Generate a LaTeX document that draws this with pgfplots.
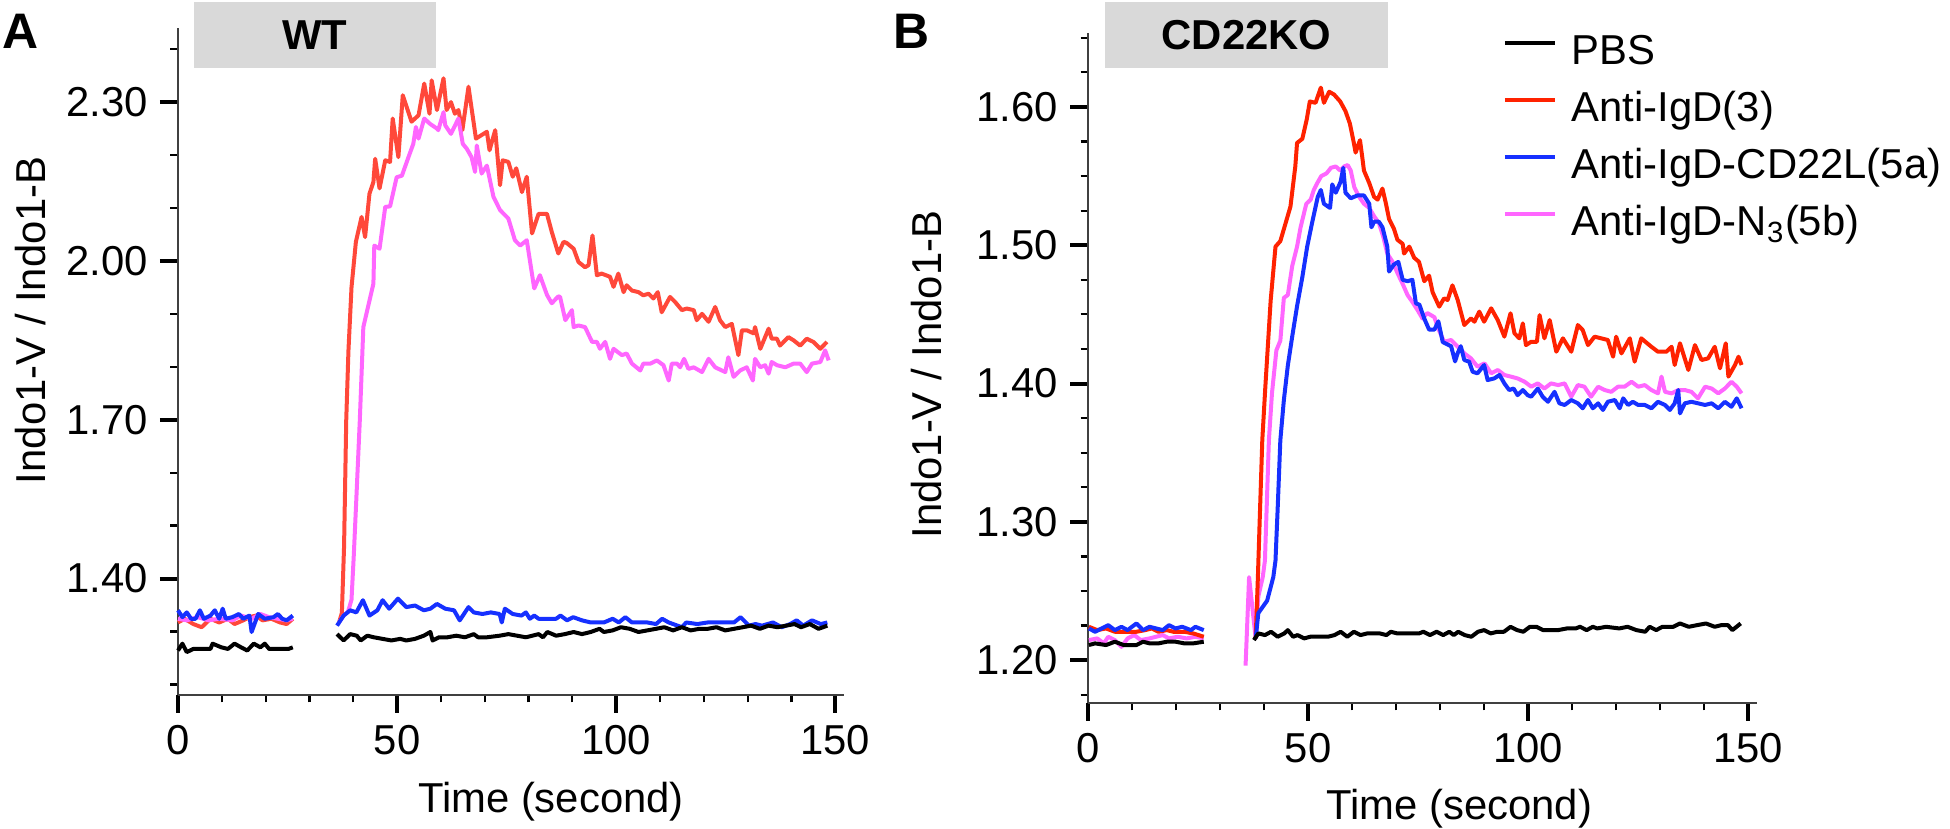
\documentclass[border=0pt]{standalone}
\usepackage{pgfplots}
\pgfplotsset{compat=1.18}
\usepackage{fontspec}
\setmainfont{Liberation Sans}
\definecolor{redA}{RGB}{255,72,58}
\definecolor{redB}{RGB}{255,34,0}
\definecolor{magA}{RGB}{255,102,255}
\definecolor{bluA}{RGB}{22,48,255}
\definecolor{boxgray}{RGB}{217,217,217}
\newcommand{\fs}{\fontsize{11.9}{14}\selectfont}
\pgfplotsset{
  myaxis/.style={
    scale only axis,
    font=\fs,
    axis x line*=bottom, axis y line*=left,
    axis line style={line width=0.2mm, black!75},
    tick align=outside,
    major tick length=1.8mm, minor tick length=0.75mm,
    major tick style={line width=0.4mm, black},
    minor tick style={line width=0.22mm, black},
    xmin=0, xmax=152,
    xtick={0,50,100,150},
    minor xtick={10,20,30,40,60,70,80,90,110,120,130,140},
    xticklabel style={/pgf/number format/assume math mode=true, font=\fs},
    yticklabel style={/pgf/number format/.cd, fixed, fixed zerofill, precision=2, assume math mode=true},
    xlabel={Time (second)},
    ylabel={Indo1-V / Indo1-B},
    every axis plot/.append style={line width=0.4mm, line join=round},
    clip=false,
  }
}
\begin{document}
\begin{tikzpicture}
% ---------------- Panel A ----------------
\begin{axis}[myaxis,
  at={(17.8mm,13.4mm)}, anchor=south west,
  width=66.6mm, height=66.7mm,
  ymin=1.18, ymax=2.44,
  ytick={1.4,1.7,2.0,2.3},
  minor ytick={1.2,1.3,1.5,1.6,1.8,1.9,2.1,2.2,2.4},
  ylabel style={at={(axis description cs:-0.222,0.562)}, anchor=center},
  xlabel style={at={(axis description cs:0.56,-0.13)}, anchor=north, inner sep=0pt},
]
% red pre
\addplot[redA, forget plot] coordinates {(0,1.317)(1.5,1.324)(3.5,1.314)(5.4,1.308)(7.4,1.324)(9.4,1.317)(11.4,1.324)(12.9,1.314)(14.9,1.321)(16.3,1.327)(17.8,1.330)(19.3,1.321)(21.3,1.324)(23.3,1.317)(24.8,1.314)(26.2,1.324)};
% magenta pre
\addplot[magA, forget plot] coordinates {(0,1.324)(2,1.321)(4.5,1.327)(7,1.321)(9.4,1.324)(12.4,1.321)(14.4,1.330)(16.8,1.324)(18.8,1.333)(20.8,1.327)(22.8,1.324)(24.8,1.321)(26.2,1.324)};
% blue pre
\addplot[bluA, forget plot] coordinates {(0,1.340)(1.0,1.327)(2.0,1.336)(3.0,1.324)(4.0,1.324)(5.0,1.340)(5.9,1.324)(7.4,1.330)(8.4,1.340)(9.4,1.324)(10.2,1.343)(10.9,1.324)(12.4,1.327)(13.9,1.333)(14.9,1.324)(16.3,1.330)(16.8,1.299)(18.3,1.333)(19.8,1.324)(21.8,1.327)(22.8,1.333)(23.8,1.324)(24.8,1.321)(26.2,1.330)};
% black pre
\addplot[black, forget plot] coordinates {(0,1.264)(1.0,1.277)(2.0,1.261)(3.5,1.267)(7.4,1.267)(7.9,1.277)(9.9,1.270)(11.4,1.267)(12.9,1.277)(14.4,1.270)(15.8,1.264)(17.3,1.277)(18.8,1.270)(19.8,1.277)(20.8,1.267)(23.3,1.267)(25.2,1.267)(26.2,1.270)};
% red post
\addplot[redA, forget plot] coordinates {(36.8,1.318)(37.4,1.335)(37.9,1.46)(38.4,1.70)(38.9,1.83)(39.6,1.95)(40.6,2.036)(41.9,2.083)(42.7,2.045)(43.7,2.127)(44.6,2.149)(45.0,2.193)(46.0,2.137)(47.3,2.190)(48.4,2.187)(49.0,2.269)(50.3,2.196)(51.3,2.313)(53.3,2.263)(54.9,2.275)(56.2,2.335)(57.4,2.278)(57.9,2.341)(59.1,2.285)(60.6,2.345)(61.3,2.285)(62.3,2.300)(63.2,2.278)(64.0,2.285)(64.9,2.247)(66.3,2.329)(68.0,2.231)(70.5,2.244)(71.1,2.209)(72.4,2.247)(73.5,2.143)(74.1,2.190)(75.4,2.187)(76.4,2.159)(77.2,2.175)(78.5,2.130)(79.6,2.159)(80.8,2.052)(82.3,2.089)(84.2,2.089)(85.3,2.055)(86.8,2.014)(88.0,2.036)(88.7,2.034)(90.3,2.023)(91.4,1.998)(92.9,1.988)(93.7,1.992)(94.6,2.048)(95.6,1.973)(96.7,1.976)(98.6,1.970)(99.4,1.951)(100.5,1.976)(101.7,1.941)(102.4,1.954)(103.6,1.944)(105.1,1.941)(106.2,1.935)(107.4,1.938)(108.5,1.929)(109.5,1.941)(110.4,1.903)(112.3,1.932)(113.5,1.922)(115.0,1.907)(116.1,1.910)(117.7,1.907)(118.4,1.888)(119.6,1.900)(121.1,1.885)(122.6,1.913)(123.7,1.888)(124.9,1.875)(126.4,1.881)(127.9,1.822)(128.7,1.869)(129.8,1.869)(131.4,1.863)(131.7,1.875)(132.9,1.834)(134.0,1.856)(134.8,1.872)(135.5,1.853)(136.7,1.853)(137.4,1.840)(139.3,1.856)(140.5,1.850)(142.0,1.840)(143.5,1.853)(145.0,1.847)(146.6,1.834)(148.1,1.847)};
% magenta post
\addplot[magA, forget plot] coordinates {(36.8,1.318)(37.8,1.33)(38.8,1.337)(39.6,1.36)(40.1,1.44)(40.7,1.55)(41.5,1.70)(42.3,1.875)(44.6,1.957)(44.8,2.029)(46.0,2.023)(47.3,2.102)(48.4,2.103)(49.9,2.158)(51.1,2.161)(52.6,2.196)(53.7,2.221)(54.3,2.253)(54.9,2.231)(56.2,2.269)(57.5,2.259)(59.1,2.250)(59.4,2.247)(60.6,2.281)(61.0,2.256)(62.3,2.240)(64.0,2.269)(65.0,2.221)(65.9,2.212)(67.0,2.196)(67.8,2.168)(68.2,2.218)(69.3,2.165)(70.5,2.180)(72.0,2.121)(73.5,2.096)(75.4,2.080)(76.9,2.039)(78.1,2.029)(79.6,2.039)(81.3,1.948)(82.6,1.973)(84.2,1.936)(85.3,1.920)(86.8,1.933)(87.2,1.932)(88.4,1.888)(89.9,1.907)(90.3,1.875)(91.4,1.878)(92.9,1.875)(94.5,1.847)(95.6,1.847)(96.3,1.834)(97.5,1.847)(98.6,1.815)(99.4,1.834)(101.3,1.822)(102.4,1.825)(103.6,1.806)(105.5,1.793)(106.2,1.806)(107.8,1.806)(109.3,1.812)(110.8,1.803)(112.0,1.774)(112.7,1.806)(113.9,1.806)(114.6,1.799)(115.5,1.815)(116.5,1.796)(117.7,1.799)(119.6,1.790)(121.1,1.815)(122.6,1.799)(124.9,1.790)(125.6,1.818)(126.8,1.781)(128.3,1.793)(129.8,1.799)(131.2,1.774)(131.7,1.815)(132.9,1.799)(134.0,1.803)(134.8,1.787)(135.5,1.809)(136.7,1.803)(138.6,1.799)(140.5,1.806)(142.0,1.806)(143.5,1.790)(144.7,1.806)(146.6,1.809)(147.7,1.831)(148.5,1.812)};
% blue post
\addplot[bluA, forget plot] coordinates {(36.3,1.311)(37.8,1.330)(39.3,1.340)(40.7,1.336)(42.2,1.359)(43.7,1.330)(45.5,1.340)(46.7,1.359)(48.2,1.343)(50.2,1.362)(52.1,1.346)(54.1,1.349)(56.1,1.340)(57.6,1.343)(59.1,1.352)(61.0,1.343)(63.0,1.340)(64.3,1.321)(66.3,1.346)(67.5,1.336)(69.5,1.333)(71.4,1.336)(73.4,1.333)(73.9,1.317)(74.6,1.343)(76.4,1.333)(78.4,1.330)(79.4,1.336)(80.3,1.324)(81.3,1.330)(82.3,1.324)(84.3,1.324)(86.3,1.324)(87.3,1.330)(88.8,1.321)(90.2,1.327)(92.2,1.321)(94.2,1.317)(97.2,1.317)(99.2,1.324)(100.6,1.317)(102.1,1.327)(103.6,1.317)(107.1,1.317)(109.1,1.314)(110.5,1.324)(112.0,1.317)(115.0,1.308)(116.0,1.317)(118.5,1.314)(120.9,1.317)(124.9,1.317)(126.9,1.317)(128.4,1.327)(130.3,1.311)(131.8,1.314)(133.3,1.311)(135.8,1.317)(137.8,1.308)(139.7,1.314)(141.2,1.321)(142.7,1.311)(144.7,1.321)(146.7,1.314)(148.2,1.317)};
% black post
\addplot[black, forget plot] coordinates {(36.3,1.295)(37.8,1.283)(39.3,1.295)(40.8,1.292)(41.7,1.283)(43.2,1.292)(44.7,1.289)(46.7,1.286)(48.7,1.283)(50.7,1.286)(52.1,1.283)(54.1,1.286)(56.1,1.292)(57.6,1.299)(58.1,1.283)(59.6,1.289)(61.5,1.289)(63.5,1.292)(65.5,1.289)(67.5,1.295)(68.5,1.289)(70.5,1.289)(73.4,1.292)(75.4,1.295)(77.4,1.292)(79.4,1.289)(82.3,1.295)(83.3,1.289)(84.3,1.299)(86.3,1.292)(88.3,1.295)(90.3,1.299)(92.2,1.295)(94.2,1.299)(96.2,1.305)(97.2,1.299)(99.2,1.302)(101.1,1.308)(103.1,1.305)(105.1,1.299)(107.1,1.302)(109.1,1.305)(111.0,1.308)(113.0,1.302)(115.0,1.308)(117.0,1.302)(119.0,1.305)(120.9,1.305)(122.9,1.308)(124.9,1.302)(126.9,1.305)(128.9,1.308)(130.8,1.311)(132.8,1.305)(134.8,1.311)(136.8,1.308)(138.8,1.311)(140.7,1.314)(142.2,1.308)(144.2,1.314)(146.2,1.305)(148.2,1.311)};
\end{axis}
% ---------------- Panel B ----------------
\begin{axis}[myaxis,
  at={(108.8mm,12.6mm)}, anchor=south west,
  width=66.9mm, height=67.0mm,
  ymin=1.169, ymax=1.6535,
  ytick={1.2,1.3,1.4,1.5,1.6},
  minor ytick={1.175,1.225,1.25,1.275,1.325,1.35,1.375,1.425,1.45,1.475,1.525,1.55,1.575,1.625,1.65},
  ylabel style={at={(axis description cs:-0.242,0.49)}, anchor=center},
  xlabel style={at={(axis description cs:0.555,-0.127)}, anchor=north, inner sep=0pt},
  legend style={at={(axis description cs:0.619,1.0015)}, anchor=north west, draw=none, fill=none, inner sep=0pt, row sep=1.5mm, column sep=1.5mm, font=\fs, nodes={inner sep=0pt, text height=3.2mm, text depth=1.0mm}},
  legend cell align=left,
  legend image code/.code={\draw[#1] (0mm,1.1mm) -- (5mm,1.1mm);},
]
\addlegendimage{black, line width=0.4mm}\addlegendentry{PBS}
\addlegendimage{redB, line width=0.4mm}\addlegendentry{Anti-IgD(3)}
\addlegendimage{bluA, line width=0.4mm}\addlegendentry{Anti-IgD-CD22L(5a)}
\addlegendimage{magA, line width=0.4mm}\addlegendentry{Anti-IgD-N\textsubscript{3}(5b)}
% magenta pre
\addplot[magA, forget plot] coordinates {(0.2,1.2145)(2.1,1.2157)(3.6,1.2121)(4.6,1.2169)(6.1,1.2145)(7.6,1.2096)(9.0,1.2157)(10.5,1.2181)(12.0,1.2145)(14.0,1.2157)(15.5,1.2169)(17.0,1.2181)(18.4,1.2157)(20.4,1.2169)(22.4,1.2157)(24.4,1.2169)(26.3,1.2157)};
% red pre
\addplot[redB, forget plot] coordinates {(0.2,1.2241)(2.1,1.2217)(4.1,1.2229)(6.1,1.2205)(8.1,1.2205)(11.0,1.2205)(13.0,1.2217)(14.5,1.2229)(16.0,1.2205)(17.9,1.2217)(19.4,1.2205)(21.9,1.2205)(23.9,1.2193)(26.3,1.2169)};
% blue pre
\addplot[bluA, forget plot] coordinates {(0.2,1.2229)(1.6,1.2205)(3.1,1.2229)(4.6,1.2253)(6.1,1.2217)(7.6,1.2241)(9.0,1.2217)(11.0,1.2265)(12.5,1.2217)(14.0,1.2241)(15.5,1.2229)(17.0,1.2217)(18.4,1.2253)(19.9,1.2229)(21.4,1.2241)(23.4,1.2217)(24.4,1.2241)(26.3,1.2217)};
% black pre
\addplot[black, forget plot] coordinates {(0.2,1.2109)(1.6,1.2121)(4.1,1.2109)(6.1,1.2133)(8.1,1.2109)(11.0,1.2109)(12.5,1.2133)(14.0,1.2121)(16.0,1.2121)(17.9,1.2133)(19.9,1.2133)(21.9,1.2121)(23.9,1.2121)(26.3,1.2133)};
% magenta post
\addplot[magA, forget plot] coordinates {(35.8,1.196)(36.6,1.26)(38.1,1.2157)(38.7,1.246)(39.7,1.260)(40.2,1.272)(41.1,1.359)(41.8,1.393)(42.8,1.424)(43.7,1.431)(44.5,1.462)(45.4,1.464)(46.4,1.485)(47.5,1.499)(48.3,1.513)(49.6,1.530)(50.6,1.533)(51.3,1.540)(52.1,1.545)(53.0,1.550)(54.2,1.552)(55.2,1.556)(56.3,1.557)(57.3,1.554)(58.2,1.557)(59.0,1.558)(59.7,1.554)(60.5,1.542)(61.6,1.535)(62.7,1.530)(63.9,1.527)(65.0,1.521)(66.1,1.516)(67.1,1.506)(68.0,1.494)(69.2,1.488)(70.3,1.480)(71.5,1.472)(72.6,1.464)(73.7,1.459)(74.9,1.453)(76.0,1.447)(77.1,1.451)(78.7,1.448)(79.4,1.4411)(80.9,1.4302)(82.5,1.4315)(84.0,1.4266)(85.5,1.4218)(87.0,1.4182)(88.5,1.4122)(90.1,1.4146)(91.6,1.4074)(93.1,1.4098)(94.6,1.4062)(96.1,1.405)(97.6,1.4037)(99.2,1.4013)(100.7,1.3977)(102.2,1.4001)(103.7,1.3964)(105.2,1.4001)(106.8,1.3989)(108.3,1.4001)(109.8,1.3905)(111.3,1.3989)(112.8,1.3977)(114.3,1.3905)(115.9,1.3977)(117.4,1.3953)(118.9,1.394)(120.4,1.3977)(121.9,1.3977)(123.5,1.4013)(125.0,1.3977)(126.5,1.3989)(128.0,1.3953)(129.5,1.3929)(130.3,1.405)(131.1,1.394)(132.6,1.3929)(134.1,1.3953)(135.6,1.3953)(137.1,1.394)(138.6,1.3893)(140.2,1.3977)(141.7,1.3964)(143.2,1.3929)(144.7,1.3964)(146.2,1.4013)(147.4,1.3977)(148.5,1.3929)};
% red post
\addplot[redB, forget plot] coordinates {(38.1,1.2157)(38.6,1.26)(39.1,1.31)(39.6,1.359)(40.3,1.398)(41.5,1.460)(42.6,1.499)(43.7,1.503)(44.9,1.516)(46.0,1.528)(47.1,1.557)(47.5,1.574)(48.7,1.577)(49.7,1.591)(50.4,1.604)(51.7,1.603)(52.9,1.614)(53.6,1.603)(54.8,1.611)(55.9,1.609)(57.3,1.604)(58.5,1.597)(59.5,1.588)(60.4,1.574)(60.8,1.567)(61.8,1.576)(62.3,1.564)(62.7,1.554)(63.9,1.545)(65.0,1.535)(65.8,1.533)(66.9,1.541)(67.7,1.530)(68.4,1.519)(69.5,1.512)(70.3,1.504)(71.5,1.501)(71.8,1.494)(73.0,1.499)(74.1,1.491)(75.2,1.488)(76.4,1.474)(77.5,1.478)(78.3,1.466)(79.8,1.4556)(80.9,1.4616)(81.7,1.4604)(82.8,1.471)(84.0,1.4604)(85.5,1.4423)(87.0,1.4471)(87.8,1.4447)(88.9,1.452)(90.0,1.4447)(91.6,1.4544)(93.1,1.4459)(94.6,1.4339)(96.0,1.4508)(96.9,1.4363)(98.0,1.4327)(98.8,1.4435)(99.5,1.4278)(100.7,1.4302)(102.0,1.4302)(102.6,1.4495)(103.7,1.4327)(104.9,1.4459)(106.4,1.423)(107.9,1.4327)(109.8,1.423)(111.3,1.4423)(112.4,1.4387)(113.6,1.4278)(115.1,1.4339)(116.6,1.4327)(118.1,1.4315)(119.3,1.4194)(120.0,1.4339)(121.2,1.4218)(123.1,1.4327)(124.2,1.4158)(125.7,1.4327)(128.0,1.4266)(129.5,1.423)(131.4,1.423)(132.6,1.4266)(133.3,1.4134)(134.5,1.4291)(136.4,1.4098)(137.9,1.4278)(139.4,1.417)(140.9,1.4182)(142.4,1.4266)(143.6,1.411)(144.9,1.4291)(145.5,1.405)(147.0,1.4134)(147.8,1.4194)(148.5,1.4134)};
% blue post
\addplot[bluA, forget plot] coordinates {(38.1,1.2157)(38.7,1.234)(40.7,1.243)(42.1,1.260)(42.6,1.272)(43.1,1.31)(43.7,1.359)(44.5,1.388)(45.4,1.413)(46.4,1.434)(47.5,1.456)(48.7,1.477)(49.8,1.499)(50.9,1.516)(52.2,1.535)(52.9,1.540)(53.6,1.530)(55.0,1.527)(55.5,1.544)(56.3,1.538)(57.4,1.546)(58.0,1.556)(58.5,1.538)(59.7,1.534)(61.2,1.536)(62.7,1.536)(63.9,1.530)(64.4,1.513)(65.0,1.517)(66.1,1.517)(66.9,1.513)(68.0,1.499)(68.4,1.481)(69.5,1.486)(70.5,1.488)(71.5,1.475)(72.6,1.474)(73.7,1.475)(74.5,1.458)(75.3,1.457)(76.4,1.447)(77.5,1.439)(78.7,1.439)(79.6,1.445)(80.6,1.430)(82.5,1.427)(83.4,1.416)(84.0,1.422)(84.7,1.427)(85.5,1.417)(86.6,1.4158)(87.4,1.4085)(88.5,1.4074)(90.0,1.4134)(90.8,1.4025)(92.3,1.4037)(93.5,1.4062)(94.6,1.4001)(95.7,1.3953)(96.7,1.3964)(97.6,1.3916)(98.8,1.3953)(99.9,1.3916)(100.7,1.3905)(102.2,1.3964)(103.3,1.3905)(104.5,1.3868)(106.0,1.394)(107.1,1.3857)(108.3,1.3845)(109.8,1.3881)(111.3,1.3857)(112.4,1.3821)(113.6,1.3881)(114.7,1.3821)(115.9,1.3857)(117.0,1.3809)(118.1,1.3868)(119.7,1.3881)(120.8,1.3821)(121.6,1.3893)(122.7,1.3845)(123.8,1.3868)(125.0,1.3845)(126.5,1.3845)(128.0,1.3821)(129.5,1.3868)(131.1,1.3845)(132.2,1.3809)(133.3,1.3857)(134.1,1.3953)(134.5,1.3784)(135.6,1.3857)(137.1,1.3868)(138.6,1.3857)(140.2,1.3845)(141.7,1.3857)(143.2,1.3821)(144.7,1.3868)(146.2,1.3832)(147.4,1.3893)(148.5,1.3821)};
% black post
\addplot[black, forget plot] coordinates {(37.7,1.2145)(38.7,1.2193)(40.2,1.2181)(41.6,1.2205)(43.1,1.2169)(44.6,1.2193)(45.4,1.2217)(46.6,1.2169)(47.6,1.2181)(49.1,1.2157)(50.5,1.2169)(52.5,1.2169)(54.5,1.2169)(56.0,1.2181)(57.4,1.2205)(58.9,1.2169)(60.4,1.2205)(61.9,1.2181)(63.4,1.2193)(66.3,1.2193)(67.8,1.2181)(68.8,1.2205)(70.3,1.2193)(73.3,1.2193)(75.2,1.2193)(76.2,1.2205)(77.7,1.2181)(79.2,1.2205)(80.7,1.2181)(82.1,1.2205)(83.1,1.2181)(84.1,1.2205)(85.6,1.2181)(87.1,1.2169)(88.6,1.2205)(90.0,1.2217)(91.5,1.2193)(93.0,1.2205)(94.5,1.2205)(96.0,1.2241)(97.5,1.2217)(98.9,1.2205)(100.4,1.2241)(101.9,1.2241)(103.4,1.2217)(106.8,1.2217)(108.8,1.2229)(110.8,1.2229)(111.8,1.2241)(113.3,1.2217)(114.7,1.2241)(115.7,1.2229)(117.7,1.2241)(120.7,1.2229)(122.6,1.2241)(124.6,1.2217)(126.6,1.2205)(127.6,1.2241)(129.1,1.2217)(130.5,1.2241)(133.0,1.2241)(134.5,1.2265)(136.5,1.2241)(138.4,1.2253)(140.4,1.2265)(142.4,1.2241)(143.9,1.2253)(145.4,1.2253)(146.4,1.2217)(148.3,1.2265)};
\end{axis}
% ---------------- boxes and panel letters ----------------
\fill[boxgray] (19.4mm,76.1mm) rectangle (43.6mm,82.7mm);
\node[font=\fs\bfseries] at (31.5mm,79.4mm) {WT};
\fill[boxgray] (110.5mm,76.1mm) rectangle (138.8mm,82.7mm);
\node[font=\fs\bfseries] at (124.65mm,79.4mm) {CD22KO};
\node[font=\fontsize{14.2}{16}\selectfont\bfseries] at (2.1mm,79.8mm) {A};
\node[font=\fontsize{14.2}{16}\selectfont\bfseries] at (91.2mm,79.8mm) {B};
\pgfresetboundingbox
\useasboundingbox (0,0) rectangle (195mm,82.9mm);
\end{tikzpicture}
\end{document}
